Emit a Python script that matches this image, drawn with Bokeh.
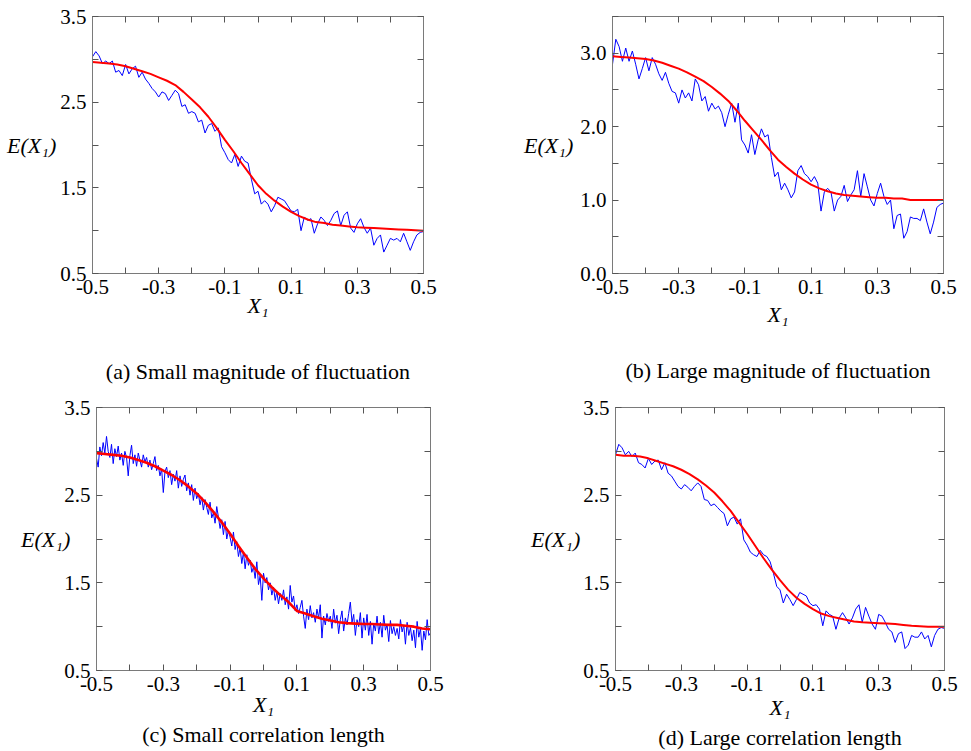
import numpy as np
from bokeh.plotting import figure
from bokeh.layouts import column, row
from bokeh.models import LinearAxis, FixedTicker, Range1d, Title, PrintfTickFormatter
from bokeh.embed import file_html
from bokeh.resources import INLINE

FONT = "Liberation Serif"
FRAME_COLOR = "#7a7a7a"
TICK_COLOR = "#555555"

# ---------------- data ----------------
x_blue = np.linspace(-0.5, 0.5, 101)      # sampling grid of the noisy curves (a, b, d)
x_blue_c = np.linspace(-0.5, 0.5, 201)    # finer grid for panel (c)
x_red = np.linspace(-0.5, 0.5, 41)        # sampling grid of the smooth curves

blue_a = [3.03, 3.09, 3.04, 2.95, 2.98, 2.95, 2.98, 2.85, 2.87, 2.81,
          2.94, 2.83, 2.89, 2.92, 2.79, 2.85, 2.77, 2.72, 2.66, 2.62,
          2.56, 2.62, 2.60, 2.52, 2.58, 2.64, 2.60, 2.45, 2.47, 2.37,
          2.39, 2.37, 2.27, 2.29, 2.14, 2.23, 2.25, 2.16, 2.20, 1.98,
          1.91, 1.83, 1.79, 1.89, 1.75, 1.87, 1.81, 1.79, 1.60, 1.43,
          1.46, 1.31, 1.35, 1.31, 1.22, 1.29, 1.39, 1.37, 1.35, 1.29,
          1.23, 1.22, 1.25, 1.00, 1.16, 1.12, 1.14, 0.97, 1.08, 1.16,
          1.12, 1.06, 1.12, 1.20, 1.23, 1.06, 1.18, 1.22, 1.03, 0.98,
          1.08, 1.14, 1.04, 0.97, 1.03, 0.83, 0.91, 0.95, 0.75, 0.83,
          0.91, 0.89, 0.91, 0.87, 0.97, 0.87, 0.77, 0.87, 0.95, 0.98,
          0.99]
red_a = [2.97, 2.96, 2.95, 2.94, 2.92, 2.89, 2.86, 2.83, 2.79, 2.75,
         2.70, 2.62, 2.53, 2.44, 2.33, 2.20, 2.06, 1.93, 1.79, 1.66,
         1.53, 1.43, 1.35, 1.28, 1.22, 1.17, 1.13, 1.10, 1.09, 1.07,
         1.06, 1.05, 1.04, 1.035, 1.03, 1.025, 1.02, 1.015, 1.01, 1.005,
         1.00]

blue_b = [2.85, 3.19, 3.09, 2.89, 3.07, 2.89, 3.03, 2.85, 2.65, 2.79,
          2.94, 2.76, 2.94, 2.85, 2.72, 2.63, 2.74, 2.59, 2.48, 2.46,
          2.32, 2.50, 2.39, 2.46, 2.35, 2.65, 2.57, 2.35, 2.41, 2.21,
          2.32, 2.24, 2.28, 2.19, 2.00, 2.17, 2.32, 2.06, 2.32, 1.82,
          1.75, 1.64, 1.89, 1.62, 1.82, 1.97, 1.86, 1.89, 1.58, 1.32,
          1.38, 1.14, 1.23, 1.14, 1.03, 1.11, 1.40, 1.47, 1.36, 1.32,
          1.25, 1.32, 1.23, 0.85, 1.11, 1.16, 1.11, 0.85, 1.00, 1.05,
          1.20, 0.98, 1.07, 1.14, 1.40, 1.05, 1.36, 1.18, 1.00, 0.92,
          1.09, 1.23, 1.05, 0.94, 1.00, 0.61, 0.79, 0.81, 0.48, 0.57,
          0.77, 0.75, 0.75, 0.72, 0.88, 0.70, 0.54, 0.70, 0.90, 0.94,
          0.96]
red_b = [2.96, 2.95, 2.94, 2.93, 2.92, 2.90, 2.87, 2.83, 2.79, 2.74,
         2.68, 2.62, 2.54, 2.45, 2.35, 2.22, 2.08, 1.95, 1.82, 1.68,
         1.55, 1.45, 1.36, 1.28, 1.21, 1.16, 1.12, 1.09, 1.07, 1.06,
         1.05, 1.04, 1.03, 1.03, 1.02, 1.02, 1.00, 1.00, 1.00, 1.00,
         1.00]

blue_c = [2.92, 2.82, 3.05, 2.95, 3.10, 2.98, 3.17, 3.00, 2.93, 3.08,
          2.86, 3.03, 2.94, 3.06, 2.90, 2.98, 2.84, 3.00, 2.93, 2.72,
          2.95, 3.07, 2.86, 2.96, 2.83, 2.98, 2.90, 2.82, 2.96, 2.88,
          2.93, 2.82, 2.90, 2.79, 2.86, 2.94, 2.78, 2.84, 2.72, 2.80,
          2.53, 2.77, 2.82, 2.70, 2.78, 2.62, 2.74, 2.66, 2.78, 2.58,
          2.72, 2.60, 2.68, 2.73, 2.55, 2.64, 2.50, 2.62, 2.44, 2.58,
          2.46, 2.52, 2.39, 2.48, 2.33, 2.45, 2.36, 2.28, 2.42, 2.24,
          2.30, 2.18, 2.37, 2.25, 2.12, 2.22, 2.05, 2.20, 2.00, 2.10,
          2.02, 1.92, 2.08, 1.88, 1.97, 1.80, 1.90, 1.72, 1.85, 1.66,
          1.82, 1.70, 1.76, 1.62, 1.68, 1.55, 1.74, 1.48, 1.58, 1.30,
          1.61, 1.50, 1.56, 1.42, 1.50, 1.36, 1.45, 1.30, 1.40, 1.26,
          1.38, 1.30, 1.42, 1.25, 1.34, 1.20, 1.47, 1.28, 1.35, 1.18,
          1.25, 1.15, 1.22, 1.30, 1.12, 0.98, 1.20, 1.08, 1.24, 1.10,
          1.16, 1.05, 1.20, 1.10, 1.25, 0.87, 1.12, 1.02, 1.15, 1.06,
          1.12, 0.98, 1.20, 1.04, 1.13, 0.92, 1.08, 1.18, 0.95, 1.10,
          1.02, 1.15, 1.28, 1.05, 1.14, 0.90, 1.08, 1.00, 1.16, 0.87,
          1.10, 0.96, 1.14, 0.90, 1.06, 0.80, 1.04, 0.95, 1.12, 0.92,
          1.05, 0.88, 1.13, 0.96, 1.02, 0.83, 1.07, 0.92, 1.00, 0.90,
          0.98, 0.86, 1.08, 0.94, 1.02, 0.80, 1.05, 0.90, 0.99, 0.84,
          0.96, 0.76, 1.06, 0.88, 0.98, 0.73, 0.95, 0.85, 1.08, 0.90,
          0.93]
red_c = [2.98, 2.97, 2.96, 2.95, 2.93, 2.90, 2.87, 2.83, 2.78, 2.73,
         2.67, 2.60, 2.52, 2.42, 2.31, 2.19, 2.06, 1.92, 1.79, 1.66,
         1.55, 1.45, 1.36, 1.28, 1.18, 1.15, 1.12, 1.09, 1.07, 1.05,
         1.04, 1.035, 1.03, 1.03, 1.025, 1.02, 1.02, 1.01, 1.00, 0.98,
         0.97]

blue_d = [2.96, 3.08, 3.04, 2.96, 3.00, 2.94, 2.98, 2.87, 2.85, 2.81,
          2.92, 2.85, 2.89, 2.90, 2.79, 2.87, 2.75, 2.72, 2.66, 2.60,
          2.57, 2.62, 2.59, 2.55, 2.60, 2.64, 2.60, 2.45, 2.44, 2.38,
          2.40, 2.36, 2.32, 2.29, 2.15, 2.23, 2.25, 2.17, 2.23, 1.99,
          1.93, 1.85, 1.82, 1.80, 1.87, 1.82, 1.80, 1.74, 1.61, 1.46,
          1.42, 1.27, 1.37, 1.31, 1.24, 1.31, 1.39, 1.37, 1.35, 1.27,
          1.24, 1.25, 1.20, 1.01, 1.18, 1.14, 1.12, 0.97, 1.10, 1.16,
          1.10, 1.03, 1.10, 1.20, 1.25, 1.05, 1.22, 1.12, 1.03, 0.97,
          1.14, 1.12, 1.05, 0.97, 0.94, 0.82, 0.92, 0.94, 0.75, 0.79,
          0.90, 0.88, 0.88, 0.94, 0.86, 0.90, 0.77, 0.90, 0.97, 0.99,
          0.98]
red_d = [2.96, 2.95, 2.95, 2.94, 2.92, 2.89, 2.86, 2.83, 2.79, 2.74,
         2.68, 2.61, 2.53, 2.43, 2.32, 2.19, 2.06, 1.92, 1.78, 1.65,
         1.53, 1.42, 1.33, 1.26, 1.20, 1.15, 1.12, 1.10, 1.08, 1.06,
         1.05, 1.045, 1.04, 1.035, 1.03, 1.02, 1.01, 1.005, 1.00, 1.00,
         1.00]

# labelled ticks (major) and unlabelled ticks (minor)
x_major = [-0.5, -0.3, -0.1, 0.1, 0.3, 0.5]
x_minor = [-0.4, -0.2, 0.0, 0.2, 0.4]
x_all = [-0.5, -0.4, -0.3, -0.2, -0.1, 0.0, 0.1, 0.2, 0.3, 0.4, 0.5]
y_major_acd = [0.5, 1.5, 2.5, 3.5]
y_minor_acd = [1.0, 2.0, 3.0]
y_all_acd = [0.5, 1.0, 1.5, 2.0, 2.5, 3.0, 3.5]
y_major_b = [0.0, 1.0, 2.0, 3.0]
y_minor_b = [0.5, 1.5, 2.5, 3.5]
y_all_b = [0.0, 0.5, 1.0, 1.5, 2.0, 2.5, 3.0, 3.5]

y_axis_label = "E(X\u2081)"
x_axis_label = "X\u2081"
captions = ["(a) Small magnitude of fluctuation",
            "(b) Large magnitude of fluctuation",
            "(c) Small correlation length",
            "(d) Large correlation length"]


def style_axis(ax, major, minor):
    ax.ticker = FixedTicker(ticks=major, minor_ticks=minor)
    ax.formatter = PrintfTickFormatter(format="%.1f")
    ax.major_tick_in = 6
    ax.major_tick_out = 0
    ax.minor_tick_in = 6
    ax.minor_tick_out = 0
    ax.axis_line_color = FRAME_COLOR
    ax.major_tick_line_color = TICK_COLOR
    ax.minor_tick_line_color = TICK_COLOR
    ax.major_label_text_font = FONT
    ax.major_label_text_color = "black"
    ax.major_label_text_font_size = "21px"
    ax.major_label_standoff = 6
    ax.axis_label_text_font = FONT
    ax.axis_label_text_font_size = "22px"
    ax.axis_label_text_font_style = "italic"
    ax.axis_label_text_color = "black"


def make_panel(W, H, bl, bt, fw, fh, y0, y1, ymaj, ymin, yall,
               xb, yb, xr, yr, red_width, caption, cap_mode, cap_offset, cap_gap,
               xl_standoff, yl_standoff):
    br = W - bl - fw
    bb = H - bt - fh
    p = figure(width=W, height=H, x_range=Range1d(-0.5, 0.5), y_range=Range1d(y0, y1),
               output_backend="svg", toolbar_location=None,
               min_border_left=bl, min_border_right=br,
               min_border_top=bt, min_border_bottom=bb)
    p.xgrid.grid_line_color = None
    p.ygrid.grid_line_color = None
    p.outline_line_color = FRAME_COLOR
    p.background_fill_color = "white"
    p.border_fill_color = "white"
    style_axis(p.xaxis[0], x_major, x_minor)
    style_axis(p.yaxis[0], ymaj, ymin)
    p.xaxis[0].axis_label = x_axis_label
    p.xaxis[0].axis_label_standoff = xl_standoff
    p.yaxis[0].axis_label = y_axis_label
    p.yaxis[0].axis_label_orientation = "horizontal"
    p.yaxis[0].axis_label_standoff = yl_standoff
    top = LinearAxis()
    right = LinearAxis()
    style_axis(top, [], x_all)
    style_axis(right, [], yall)
    top.major_label_standoff = 0
    right.major_label_standoff = 0
    p.add_layout(top, "above")
    p.add_layout(right, "right")
    p.line(xb, yb, line_color="#0000ff", line_width=1)
    p.line(xr, yr, line_color="#ff0000", line_width=red_width)
    if cap_mode == "axis":
        # caption written as the label of a bare extra axis below the x axis
        cap_axis = LinearAxis(ticker=FixedTicker(ticks=[], minor_ticks=[]),
                              axis_line_color=None, major_tick_in=0, major_tick_out=0,
                              minor_tick_in=0, minor_tick_out=0, major_label_standoff=0,
                              axis_label=caption, axis_label_standoff=cap_gap,
                              axis_label_text_font=FONT, axis_label_text_font_size="22px",
                              axis_label_text_font_style="normal",
                              axis_label_text_color="black")
        p.add_layout(cap_axis, "below")
    else:
        p.add_layout(Title(text=caption, align="center", offset=cap_offset,
                           standoff=0, text_font=FONT, text_font_size="22px",
                           text_font_style="normal", text_color="black"), "below")
    return p


WL, WR = 490, 481
HT, HB = 390, 361

pa = make_panel(WL, HT, 92, 16, 331, 260, 0.5, 3.5, y_major_acd, y_minor_acd, y_all_acd,
                x_blue, blue_a, x_red, red_a, 2, captions[0], "axis", 0, 38, -4, 1)
pb = make_panel(WR, HT, 122, 8, 331, 265, 0.0, 3.5, y_major_b, y_minor_b, y_all_b,
                x_blue, blue_b, x_red, red_b, 2, captions[1], "axis", 0, 28, 5, 4)
pc = make_panel(WL, HB, 96, 17, 334, 263, 0.5, 3.5, y_major_acd, y_minor_acd, y_all_acd,
                x_blue_c, blue_c, x_red, red_c, 2.6, captions[2], "title", -2, 0, -2, -9)
pd = make_panel(WR, HB, 125, 16, 329, 266, 0.5, 3.5, y_major_acd, y_minor_acd, y_all_acd,
                x_blue, blue_d, x_red, red_d, 2, captions[3], "title", -6, 0, 1, 0)

layout = column(row(pa, pb, spacing=0), row(pc, pd, spacing=0), spacing=0)
open("out.html", "w").write(file_html(layout, INLINE))
